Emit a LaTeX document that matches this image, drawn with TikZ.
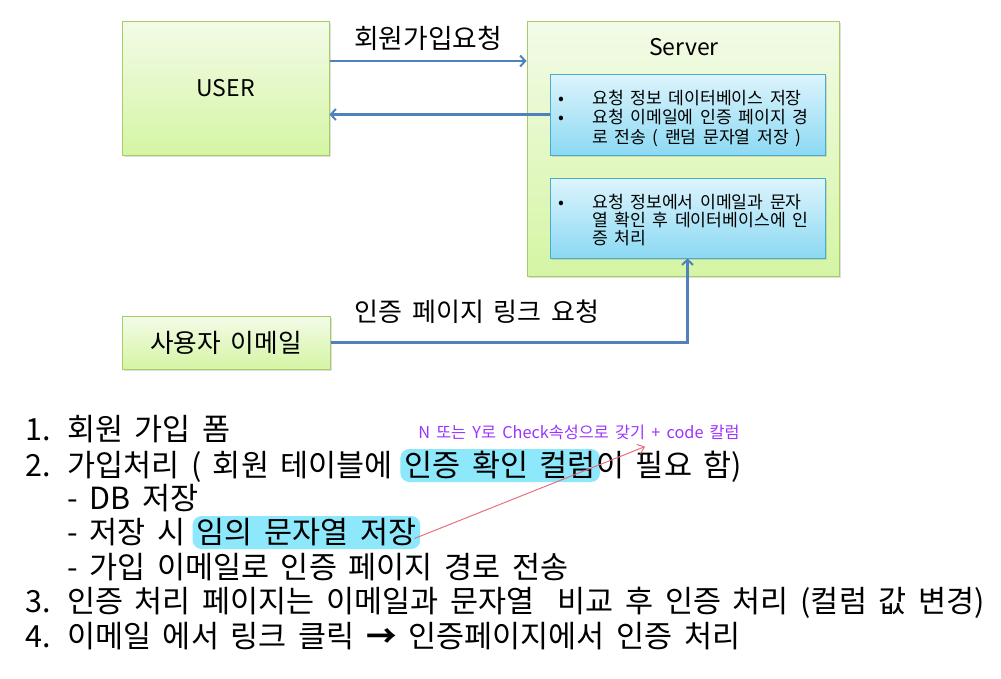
\documentclass[tikz,border=0pt]{standalone}
\usepackage{fontspec}
\setmainfont[WordSpace=1.7]{Noto Sans CJK KR}
\usetikzlibrary{arrows.meta,shadows,calc}
\definecolor{grnBorder}{HTML}{A6CC6A}
\definecolor{grnTop}{HTML}{F3FBE8}
\definecolor{grnBot}{HTML}{D5F5A4}
\definecolor{bluBorder}{HTML}{4BACC6}
\definecolor{bluTop}{HTML}{DDF4FC}
\definecolor{bluBot}{HTML}{8CD9F3}
\definecolor{arrBlue}{HTML}{4F81BD}
\definecolor{hlCyan}{HTML}{8CE8FA}
\definecolor{notePurple}{HTML}{9B33FF}
\definecolor{pinkArrow}{HTML}{E8707E}
\begin{document}
\begin{tikzpicture}[x=1pt,y=-1pt,
  gbox/.style={draw=grnBorder, line width=1pt, top color=grnTop, bottom color=grnBot,
    drop shadow={opacity=0.25, shadow xshift=2pt, shadow yshift=-2pt}},
  bbox/.style={draw=bluBorder, line width=1pt, top color=bluTop, bottom color=bluBot,
    drop shadow={opacity=0.25, shadow xshift=2pt, shadow yshift=-2pt}},
  barrow/.style={draw=arrBlue, line width=2.5pt, -{Straight Barb[length=5pt,width=11pt,line width=2pt]}},
  small/.style={anchor=base west, inner sep=0, font=\fontsize{17.2}{19}\selectfont},
  li/.style={anchor=base west, inner sep=0, font=\fontsize{30.5}{34}\selectfont},
  hl/.style={anchor=base west, fill=hlCyan, rounded corners=9pt, inner xsep=4pt, inner ysep=3pt,
    text height=24pt, text depth=3pt, font=\fontsize{30.5}{34}\selectfont},
]
\useasboundingbox (0,0) rectangle (1001,678);

% boxes
\node[gbox, minimum width=207pt, minimum height=134pt] (user) at (225.5,88) {};
\node[font=\fontsize{23}{28}\selectfont] at (user.center) {USER};
\node[gbox, minimum width=312pt, minimum height=255pt] (server) at (683,148.5) {};
\node[font=\fontsize{23}{28}\selectfont] (srvlabel) at (684,47) {Server};
\node[bbox, minimum width=275pt, minimum height=81pt] (b1) at (687.5,114.5) {};
\node[bbox, minimum width=275pt, minimum height=80pt] (b2) at (687.5,218) {};
\node[gbox, minimum width=208pt, minimum height=53pt] (email) at (226,342.5) {};
\node[font=\fontsize{25.7}{28}\selectfont] at (email.center) {사용자 이메일};

% box 1 text
\node[small] (b1p1) at (558,104) {•};
\node[small] (b1t1) at (592,104) {요청 정보 데이터베이스 저장};
\node[small] (b1p2) at (558,123) {•};
\node[small] (b1t2) at (592,123) {요청 이메일에 인증 페이지 경};
\node[small] (b1t3) at (592,143) {로 전송 ( 랜덤 문자열 저장 )};
% box 2 text
\node[small] (b2p1) at (558,208) {•};
\node[small] (b2t1) at (592,208) {요청 정보에서 이메일과 문자};
\node[small] (b2t2) at (592,226) {열 확인 후 데이터베이스에 인};
\node[small] (b2t3) at (592,244) {증 처리};

% connectors
\coordinate (a1) at ([yshift=27pt]user.east);
\draw[barrow] (a1) -- (a1 -| server.west);
\draw[barrow] (b1.west) -- (b1.west -| user.east);
\draw[barrow] (email.east) -| (b2.south);
\node[font=\fontsize{26.8}{28}\selectfont] (lab1) at (428,38) {회원가입요청};
\node[font=\fontsize{26}{28}\selectfont] (lab2) at (477,312) {인증 페이지 링크 요청};

% list
\node[li] (n1) at (25,440) {1.};
\node[li] (l1) at (67,440) {회원 가입 폼};
\node[li] (n2) at (25,476) {2.};
\node[li] (l2a) at (67,476) {가입처리 ( 회원 테이블에};
\node[hl] (h1) at ([xshift=7pt]l2a.base east) {인증 확인 컬럼};
\node[li] (l2c) at ([xshift=-4pt]h1.base east) {이 필요 함)};
\node[li] (l3) at (67,509) {- DB 저장};
\node[li] (l4a) at (67,543) {- 저장 시};
\node[hl] (h2) at ([xshift=7pt]l4a.base east) {임의 문자열 저장};
\node[li] (l5) at (67,578) {- 가입 이메일로 인증 페이지 경로 전송};
\node[li] (n3) at (25,612) {3.};
\node[li] (l6) at (67,612) {인증 처리 페이지는 이메일과 문자열\ \ 비교 후 인증 처리 (컬럼 값 변경)};
\node[li] (n4) at (25,647) {4.};
\node[li] (l7) at (67,647) {이메일 에서 링크 클릭 {\bfseries →} 인증페이지에서 인증 처리};

% note
\node[font=\fontsize{16.3}{19}\selectfont, text=notePurple, inner sep=1pt] (note) at (579,432) {N 또는 Y로 Check속성으로 갖기 + code 칼럼};
\draw[pinkArrow, line width=1pt, -{Straight Barb[length=6pt,width=10pt]}] ([shift={(-6pt,-6pt)}]h2.east) -- ([shift={(66pt,-6pt)}]note.south);
\end{tikzpicture}
\end{document}
